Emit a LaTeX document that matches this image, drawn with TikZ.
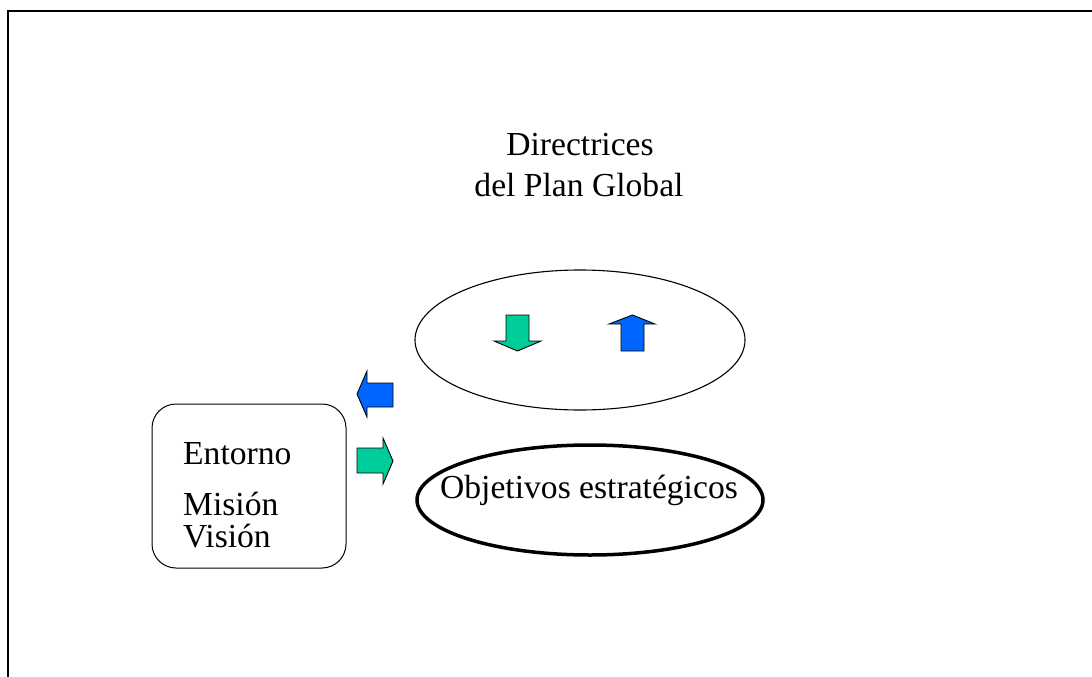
\documentclass[tikz,border=0pt]{standalone}
\usepackage{fontspec}
\setmainfont{Liberation Serif}
\usetikzlibrary{shapes.geometric}
\definecolor{arrowgreen}{HTML}{00CC99}
\definecolor{arrowblue}{HTML}{0066FF}
\begin{document}
\begin{tikzpicture}
    [x=1pt,y=-1pt,inner sep=0pt,
     big text/.style={font=\fontsize{33.6}{40}\selectfont},
     block arrow/.style={draw=black,line width=0.9pt,line join=miter}]

    \useasboundingbox (0,0) rectangle (1092,677);

    % frame:
    \draw [line width=2pt] (8,677) -- (8,11) -- (1092,11);

    % title:
    \node (dir1) at (580,155) [anchor=base,big text] {Directrices};
    \node (dir2) at (579,196) [anchor=base,big text] {del Plan Global};

    % ellipses:
    \node (plan) at (580,340) [ellipse,draw,line width=1.1pt,
      minimum width=330pt,minimum height=140pt] {};
    \node (obj) at (590,500) [ellipse,draw,line width=3.5pt,
      minimum width=346pt,minimum height=110pt] {};
    \node (objtext) at (589,498) [anchor=base,big text] {Objetivos estratégicos};

    % left box:
    \node (box) at (249,486) [draw,line width=1pt,rounded corners=24pt,
      minimum width=194pt,minimum height=164pt] {};
    \node (entorno) at (183,464) [anchor=base west,big text] {Entorno};
    \node (mision) at (183,515) [anchor=base west,big text] {Misión};
    \node (vision) at (183,547) [anchor=base west,big text] {Visión};

    % arrows:
    \draw [block arrow,fill=arrowgreen] (506,315) -- (529,315) -- (529,341)
      -- (541,341) -- (517.5,351) -- (494,341) -- (506,341) -- cycle;
    \draw [block arrow,fill=arrowblue] (621,351) -- (644,351) -- (644,324)
      -- (655,324) -- (632.5,315) -- (609,324) -- (621,324) -- cycle;
    \draw [block arrow,fill=arrowblue] (393,383) -- (393,407) -- (367,407)
      -- (367,417) -- (357,394) -- (367,371) -- (367,383) -- cycle;
    \draw [block arrow,fill=arrowgreen] (357,448) -- (383,448) -- (383,438)
      -- (393,461) -- (383,484) -- (383,473) -- (357,473) -- cycle;

  \end{tikzpicture}
\end{document}
